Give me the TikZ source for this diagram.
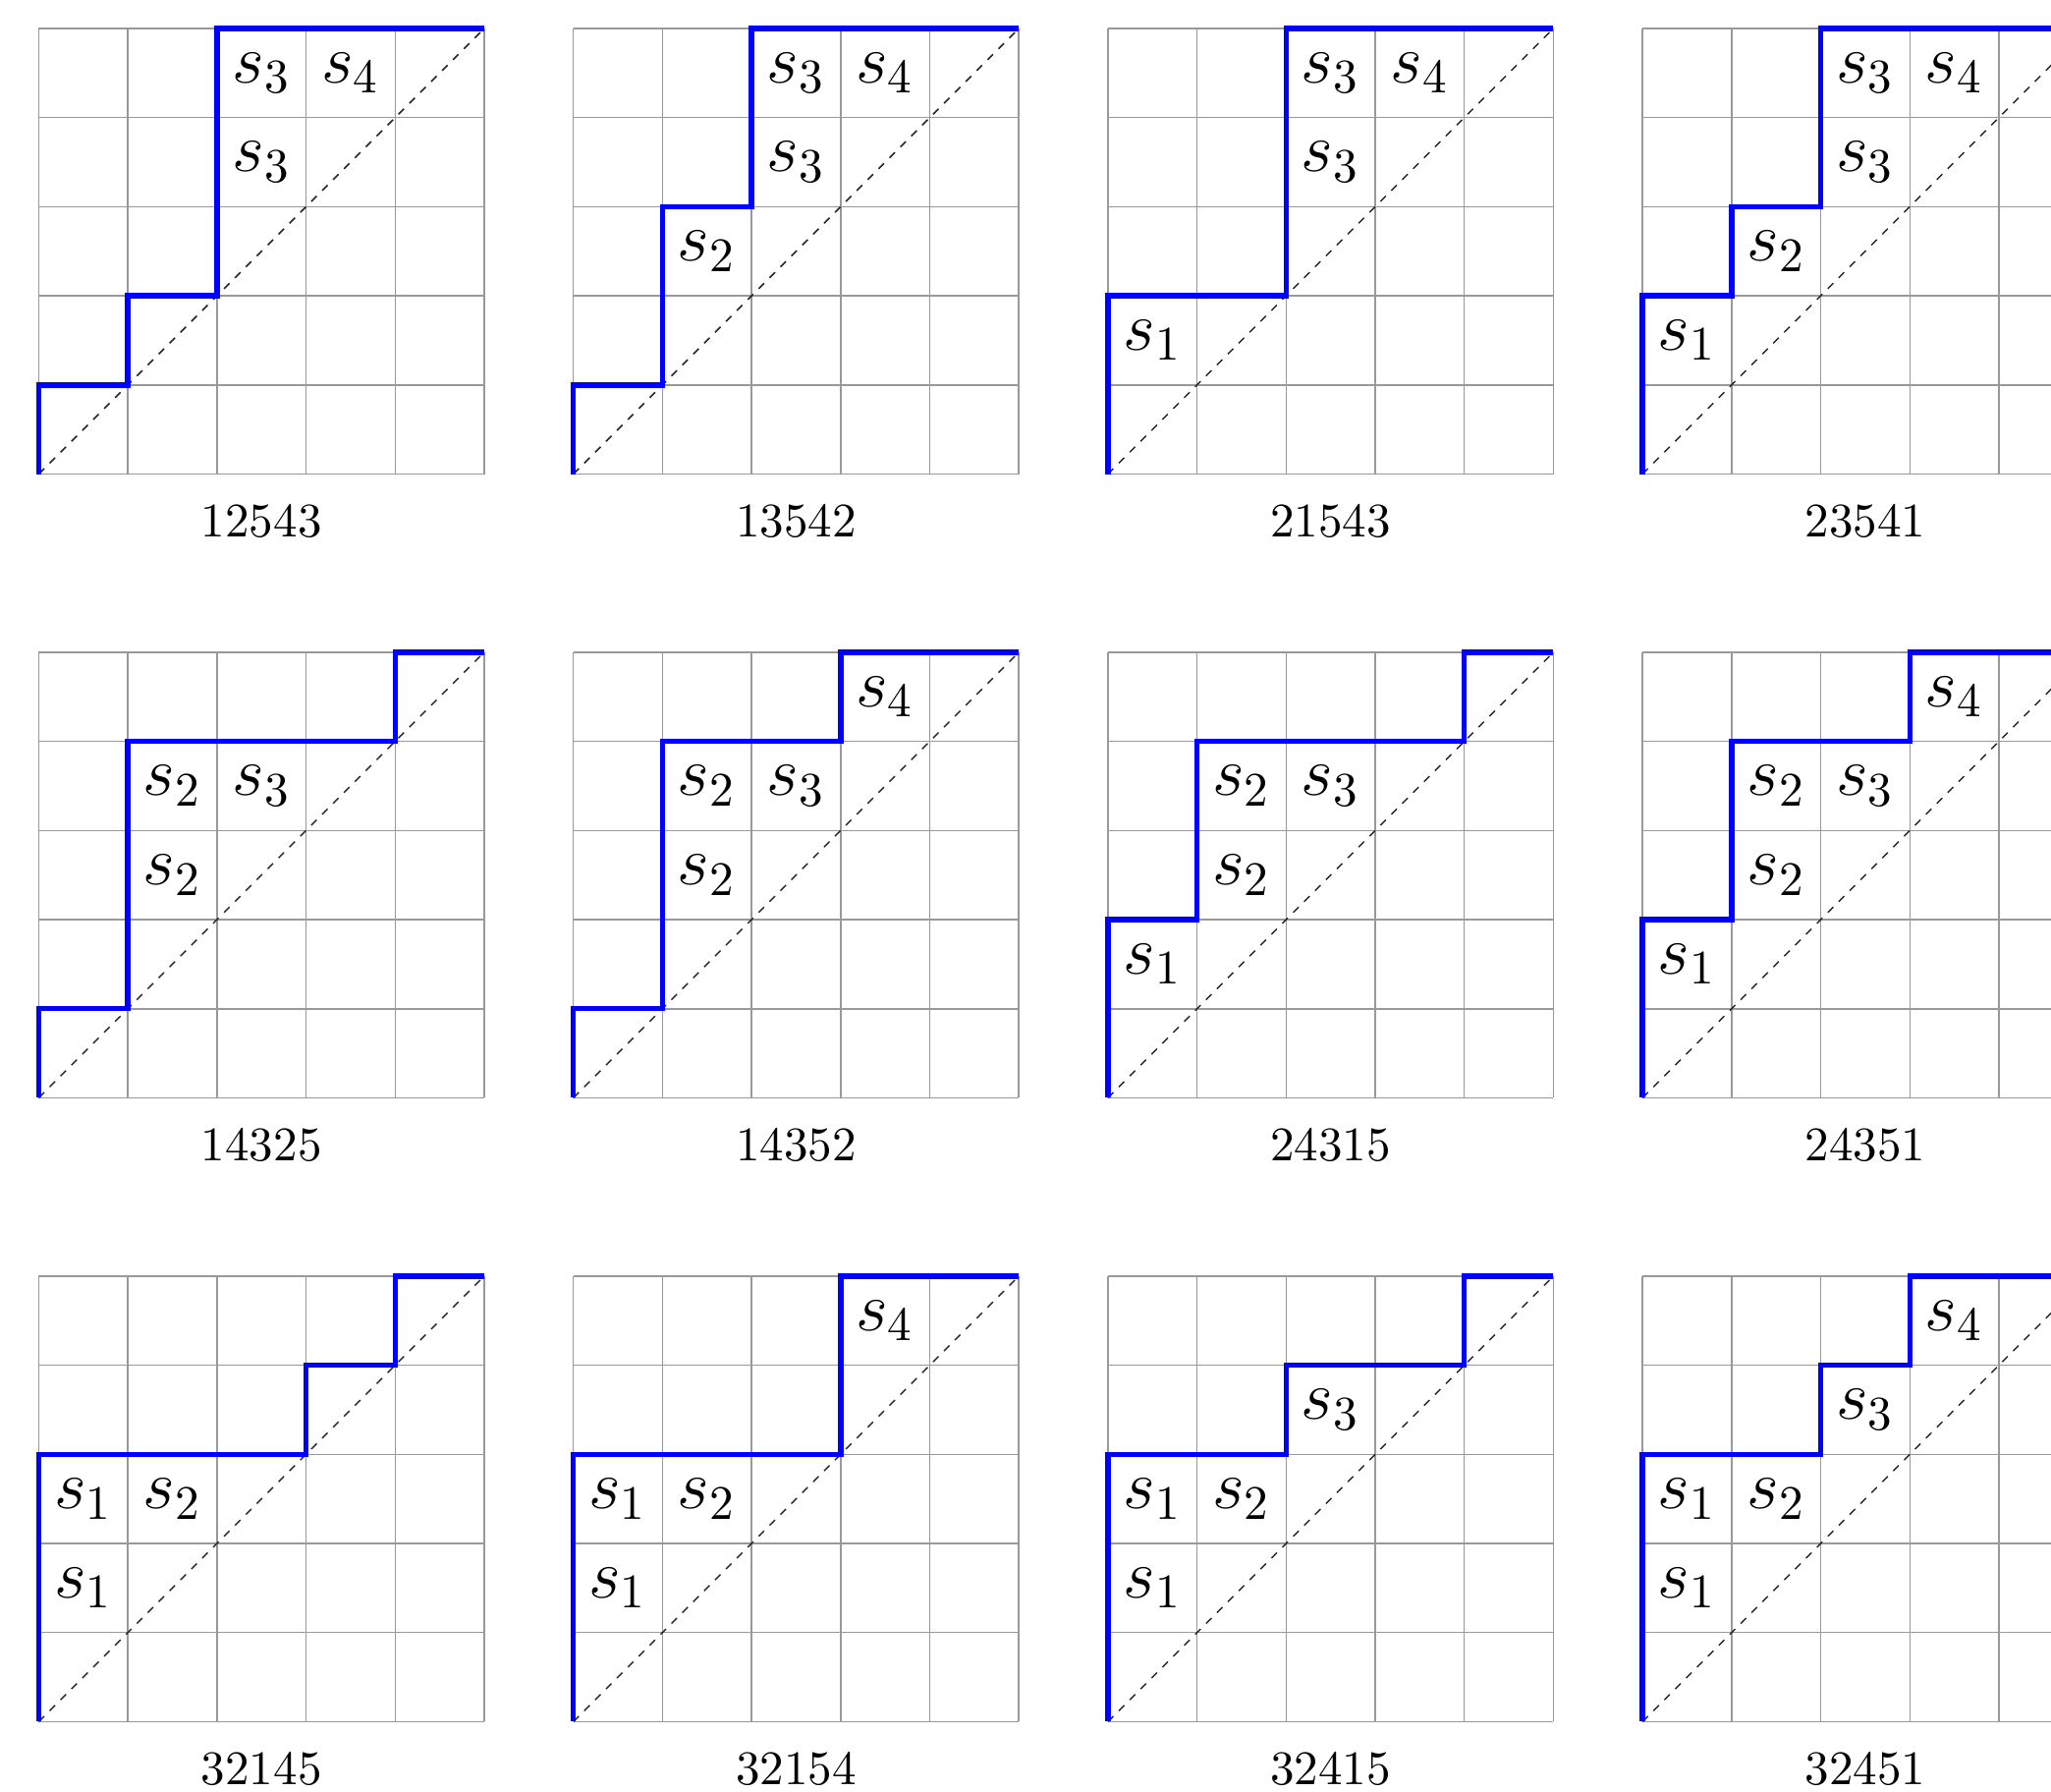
\documentclass[tikz,border=0pt]{standalone}
\usepackage{tikz}

\tikzset{
  cellgrid/.style={gray!80, line width=0.3pt, step=1},
  diag/.style={black!85, line width=0.3pt, dash pattern=on 1.6pt off 1.6pt},
  dyck/.style={blue, line width=1.1pt},
  gen/.style={font=\Large, inner sep=0pt},
  perm/.style={inner sep=0pt},
}

\begin{document}
\begin{tikzpicture}[x=0.65cm, y=0.65cm]
  \useasboundingbox (-0.435,-14.78) rectangle (22.585,5.32);
  % the twelve 5x5 boards
  \foreach \gx in {0,6,12,18} {
    \foreach \gy in {0,-7,-14} {
      \draw[cellgrid] (\gx,\gy) grid (\gx+5,\gy+5);
      \draw[diag] (\gx,\gy) -- (\gx+5,\gy+5);
    }
  }

  \begin{scope}[shift={(0,0)}]
    \draw[dyck] (0,0) |- (1,1) |- (2,2) |- (5,5);
    \node[gen] (a1) at (2.5,4.5) {$s_3$};
    \node[gen] (a2) at (3.5,4.5) {$s_4$};
    \node[gen] (a3) at (2.5,3.5) {$s_3$};
    \node[perm] (a) at (2.5,-0.53) {12543};
  \end{scope}
  \begin{scope}[shift={(6,0)}]
    \draw[dyck] (0,0) |- (1,1) |- (2,3) |- (5,5);
    \node[gen] (b1) at (2.5,4.5) {$s_3$};
    \node[gen] (b2) at (3.5,4.5) {$s_4$};
    \node[gen] (b3) at (2.5,3.5) {$s_3$};
    \node[gen] (b4) at (1.5,2.5) {$s_2$};
    \node[perm] (b) at (2.5,-0.53) {13542};
  \end{scope}
  \begin{scope}[shift={(12,0)}]
    \draw[dyck] (0,0) |- (2,2) |- (5,5);
    \node[gen] (c1) at (2.5,4.5) {$s_3$};
    \node[gen] (c2) at (3.5,4.5) {$s_4$};
    \node[gen] (c3) at (2.5,3.5) {$s_3$};
    \node[gen] (c4) at (0.5,1.5) {$s_1$};
    \node[perm] (c) at (2.5,-0.53) {21543};
  \end{scope}
  \begin{scope}[shift={(18,0)}]
    \draw[dyck] (0,0) |- (1,2) |- (2,3) |- (5,5);
    \node[gen] (d1) at (2.5,4.5) {$s_3$};
    \node[gen] (d2) at (3.5,4.5) {$s_4$};
    \node[gen] (d3) at (2.5,3.5) {$s_3$};
    \node[gen] (d4) at (1.5,2.5) {$s_2$};
    \node[gen] (d5) at (0.5,1.5) {$s_1$};
    \node[perm] (d) at (2.5,-0.53) {23541};
  \end{scope}

  \begin{scope}[shift={(0,-7)}]
    \draw[dyck] (0,0) |- (1,1) |- (4,4) |- (5,5);
    \node[gen] (e1) at (1.5,3.5) {$s_2$};
    \node[gen] (e2) at (2.5,3.5) {$s_3$};
    \node[gen] (e3) at (1.5,2.5) {$s_2$};
    \node[perm] (e) at (2.5,-0.53) {14325};
  \end{scope}
  \begin{scope}[shift={(6,-7)}]
    \draw[dyck] (0,0) |- (1,1) |- (3,4) |- (5,5);
    \node[gen] (f1) at (3.5,4.5) {$s_4$};
    \node[gen] (f2) at (1.5,3.5) {$s_2$};
    \node[gen] (f3) at (2.5,3.5) {$s_3$};
    \node[gen] (f4) at (1.5,2.5) {$s_2$};
    \node[perm] (f) at (2.5,-0.53) {14352};
  \end{scope}
  \begin{scope}[shift={(12,-7)}]
    \draw[dyck] (0,0) |- (1,2) |- (4,4) |- (5,5);
    \node[gen] (g1) at (1.5,3.5) {$s_2$};
    \node[gen] (g2) at (2.5,3.5) {$s_3$};
    \node[gen] (g3) at (1.5,2.5) {$s_2$};
    \node[gen] (g4) at (0.5,1.5) {$s_1$};
    \node[perm] (g) at (2.5,-0.53) {24315};
  \end{scope}
  \begin{scope}[shift={(18,-7)}]
    \draw[dyck] (0,0) |- (1,2) |- (3,4) |- (5,5);
    \node[gen] (h1) at (3.5,4.5) {$s_4$};
    \node[gen] (h2) at (1.5,3.5) {$s_2$};
    \node[gen] (h3) at (2.5,3.5) {$s_3$};
    \node[gen] (h4) at (1.5,2.5) {$s_2$};
    \node[gen] (h5) at (0.5,1.5) {$s_1$};
    \node[perm] (h) at (2.5,-0.53) {24351};
  \end{scope}

  \begin{scope}[shift={(0,-14)}]
    \draw[dyck] (0,0) |- (3,3) |- (4,4) |- (5,5);
    \node[gen] (i1) at (0.5,2.5) {$s_1$};
    \node[gen] (i2) at (1.5,2.5) {$s_2$};
    \node[gen] (i3) at (0.5,1.5) {$s_1$};
    \node[perm] (i) at (2.5,-0.53) {32145};
  \end{scope}
  \begin{scope}[shift={(6,-14)}]
    \draw[dyck] (0,0) |- (3,3) |- (5,5);
    \node[gen] (j1) at (3.5,4.5) {$s_4$};
    \node[gen] (j2) at (0.5,2.5) {$s_1$};
    \node[gen] (j3) at (1.5,2.5) {$s_2$};
    \node[gen] (j4) at (0.5,1.5) {$s_1$};
    \node[perm] (j) at (2.5,-0.53) {32154};
  \end{scope}
  \begin{scope}[shift={(12,-14)}]
    \draw[dyck] (0,0) |- (2,3) |- (4,4) |- (5,5);
    \node[gen] (k1) at (2.5,3.5) {$s_3$};
    \node[gen] (k2) at (0.5,2.5) {$s_1$};
    \node[gen] (k3) at (1.5,2.5) {$s_2$};
    \node[gen] (k4) at (0.5,1.5) {$s_1$};
    \node[perm] (k) at (2.5,-0.53) {32415};
  \end{scope}
  \begin{scope}[shift={(18,-14)}]
    \draw[dyck] (0,0) |- (2,3) |- (3,4) |- (5,5);
    \node[gen] (l1) at (3.5,4.5) {$s_4$};
    \node[gen] (l2) at (2.5,3.5) {$s_3$};
    \node[gen] (l3) at (0.5,2.5) {$s_1$};
    \node[gen] (l4) at (1.5,2.5) {$s_2$};
    \node[gen] (l5) at (0.5,1.5) {$s_1$};
    \node[perm] (l) at (2.5,-0.53) {32451};
  \end{scope}
\end{tikzpicture}
\end{document}
